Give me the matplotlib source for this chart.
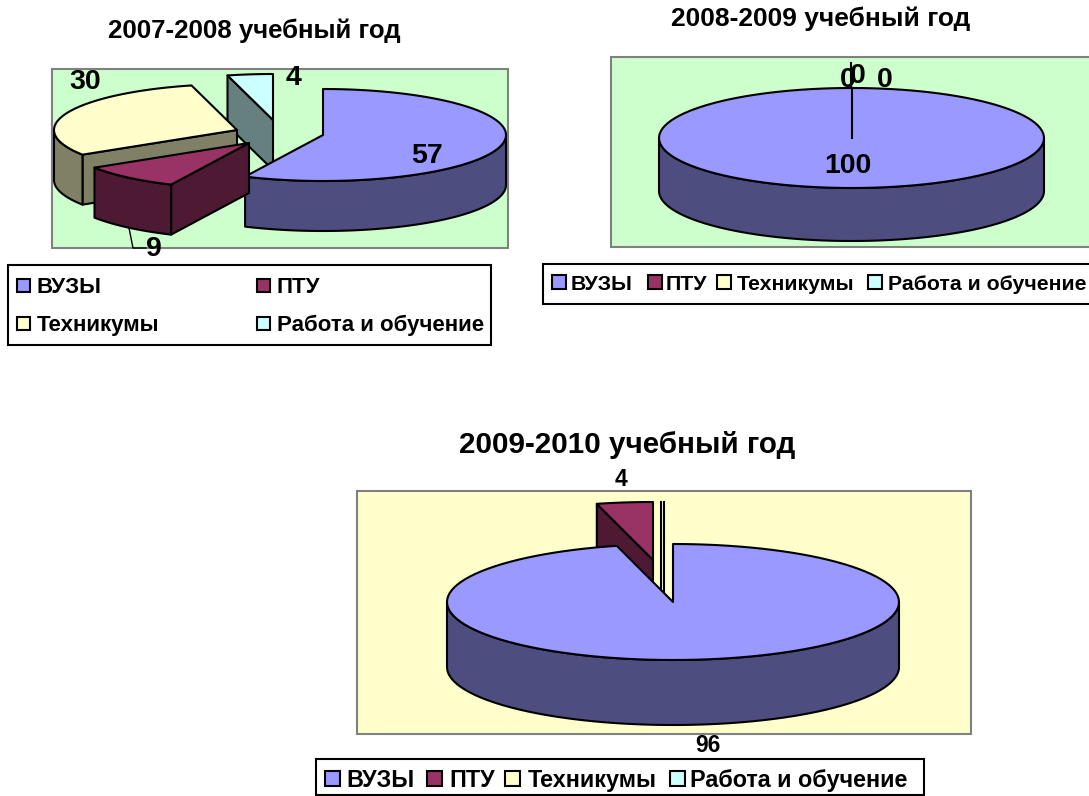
import numpy as np
import matplotlib
matplotlib.use("Agg")
import matplotlib.pyplot as plt
from matplotlib.patches import Polygon, Rectangle

plt.rcParams["font.family"] = ["Liberation Sans", "DejaVu Sans"]
plt.rcParams["font.weight"] = "bold"

# Data
CATEGORIES = ["ВУЗЫ", "ПТУ", "Техникумы", "Работа и обучение"]
VALUES_2007 = [57, 9, 30, 4]
VALUES_2008 = [100, 0, 0, 0]
VALUES_2009 = [96, 4, 0, 0]
TITLE_2007 = "2007-2008 учебный год"
TITLE_2008 = "2008-2009 учебный год"
TITLE_2009 = "2009-2010 учебный год"

# Excel 2003 default palette, side walls are the same colour at half brightness
TOP_COLORS = ["#9999FF", "#993366", "#FFFFCC", "#CCFFFF"]
SIDE_COLORS = ["#4D4D80", "#4D1933", "#808066", "#668080"]
EDGE_LW = 1.5


def ell(cx, cy, rx, ry, t):
    # angle t in degrees, clockwise from 12 o'clock
    t = np.radians(t)
    return np.column_stack([cx + rx * np.sin(t), cy - ry * np.cos(t)])


def draw_pie(ax, values, center, rx, ry, depth, offsets, order):
    """Fake 3D pie, slices go clockwise from 12 o'clock; offsets are the exploded slice centres."""
    edges = np.cumsum([0] + list(values)) / sum(values) * 360
    for i in order:
        t0, t1 = edges[i], edges[i + 1]
        cx = center[0] + offsets[i][0]
        cy = center[1] + offsets[i][1]
        top = ell(cx, cy, rx, ry, np.linspace(t0, t1, 120))
        down = np.array([0, depth])
        apex = np.array([cx, cy])
        style = dict(edgecolor="black", linewidth=EDGE_LW, joinstyle="round")

        # zero slice is only a line, zorder 1 so later slices can cover it
        if t1 == t0:
            ax.plot([top[0, 0], cx, cx], [top[0, 1], cy, cy + depth], color="black", lw=EDGE_LW, zorder=1)
            continue

        # cut faces that look towards the viewer
        if np.sin(np.radians(t0)) < -1e-6:
            face = np.array([top[0], apex, apex + down, top[0] + down])
            ax.add_patch(Polygon(face, facecolor=SIDE_COLORS[i], **style))
        if np.sin(np.radians(t1)) > 1e-6:
            face = np.array([top[-1], apex, apex + down, top[-1] + down])
            ax.add_patch(Polygon(face, facecolor=SIDE_COLORS[i], **style))

        # outer wall, front half only
        lo, hi = max(t0, 90), min(t1, 270)
        if hi > lo:
            arc = ell(cx, cy, rx, ry, np.linspace(lo, hi, 120))
            wall = np.vstack([arc, arc[::-1] + down])
            ax.add_patch(Polygon(wall, facecolor=SIDE_COLORS[i], **style))

        pts = np.vstack([apex, top]) if t1 - t0 < 360 else top
        ax.add_patch(Polygon(pts, facecolor=TOP_COLORS[i], **style))
        if t1 - t0 >= 360:
            ax.plot([cx, cx], [cy, cy - ry], color="black", lw=EDGE_LW)


def draw_legend(ax, box, swatches, texts, ys, size, fontsize):
    ax.add_patch(Rectangle((box[0], box[1]), box[2] - box[0], box[3] - box[1],
                           facecolor="white", edgecolor="black", linewidth=1.5, clip_on=True))
    for i, label in enumerate(CATEGORIES):
        ax.add_patch(Rectangle((swatches[i], ys[i] - size / 2), size, size,
                               facecolor=TOP_COLORS[i], edgecolor="black", linewidth=1.5))
        ax.text(texts[i], ys[i], label, fontsize=fontsize, va="center_baseline", ha="left")


fig = plt.figure(figsize=(10.89, 7.96), dpi=100, facecolor="white")
ax = fig.add_axes([0, 0, 1, 1])
ax.set_xlim(0, 1089)
ax.set_ylim(796, 0)
ax.axis("off")

# ---- 2007-2008
ax.add_patch(Rectangle((52, 69), 456, 179, facecolor="#CCFFCC", edgecolor="#808080", linewidth=1.5))
draw_pie(ax, VALUES_2007, (323, 135), 183, 46, 50,
         [(0, 0), (-74, 8), (-86, -5), (-50, -15)], [3, 2, 0, 1])
ax.plot([129, 133, 146], [228, 248, 248], color="black", lw=1)
ax.text(254, 31, TITLE_2007, fontsize=18.6, ha="center", va="center")
label_xy = [(427, 156), (154, 249), (85, 82), (294, 78)]
for v, (x, y) in zip(VALUES_2007, label_xy):
    ax.text(x, y, str(v), fontsize=20.5, ha="center", va="center")
draw_legend(ax, (8, 265, 491, 345), [17, 257, 17, 257], [37, 277, 37, 277], [285, 285, 323, 323], 13, 16)

# ---- 2008-2009
ax.add_patch(Rectangle((611, 57), 490, 190, facecolor="#CCFFCC", edgecolor="#808080", linewidth=1.5))
draw_pie(ax, VALUES_2008, (851.5, 138), 192.5, 50, 53, [(0, 0)] * 4, [1, 2, 3, 0])
ax.plot([851, 851], [88, 63], color="black", lw=EDGE_LW)
ax.text(821, 19, TITLE_2008, fontsize=19, ha="center", va="center")
label_xy = [(848, 166), (848, 80), (858, 76), (885, 80)]
for v, (x, y) in zip(VALUES_2008, label_xy):
    ax.text(x, y, str(v), fontsize=20.5, ha="center", va="center")
draw_legend(ax, (543, 264, 1095, 304), [552, 648, 717, 868], [571, 666, 737, 888], [282] * 4, 14, 15.3)

# ---- 2009-2010
ax.add_patch(Rectangle((357, 491), 614, 243, facecolor="#FFFFCC", edgecolor="#808080", linewidth=1.5))
draw_pie(ax, VALUES_2009, (673, 602), 226, 58, 65,
         [(0, 0), (-20, -42), (-12, -42), (-9, -42)], [3, 2, 1, 0])
ax.text(627, 445, TITLE_2009, fontsize=21.3, ha="center", va="center")
label_xy = [(708, 746), (621, 480)]
for v, (x, y) in zip(VALUES_2009[:2], label_xy):
    ax.text(x, y, str(v), fontsize=16.5, ha="center", va="center")
draw_legend(ax, (316, 759, 924, 795), [325, 427, 505, 670], [346, 449, 528, 690], [778] * 4, 15, 16.8)

plt.savefig("out.png", dpi=100)
plt.close(fig)
